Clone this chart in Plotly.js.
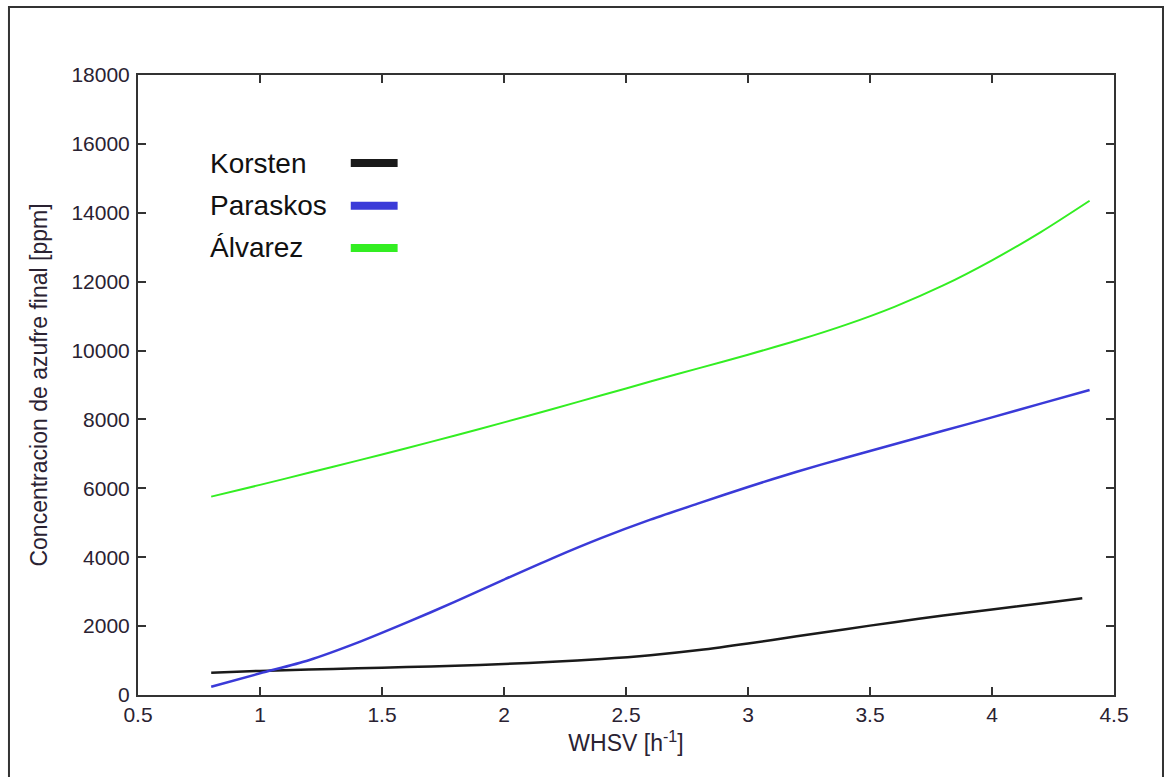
<!DOCTYPE html>
<html>
<head>
<meta charset="utf-8">
<script src="https://cdn.plot.ly/plotly-3.0.1.min.js"></script>
<style>
  html, body { margin: 0; padding: 0; background: #fff; }
  #chart { width: 1168px; height: 777px; }
</style>
</head>
<body>
<div id="chart"></div>
<script>
// WHSV [h^-1]
const whsv = [0.8, 1.0, 1.2, 1.4, 1.6, 1.8, 2.0, 2.2, 2.4, 2.6, 2.8, 3.0, 3.2, 3.4, 3.6, 3.8, 4.0, 4.2, 4.4];
const whsvKorsten = [0.8, 1.0, 1.2, 1.4, 1.6, 1.8, 2.0, 2.2, 2.4, 2.6, 2.8, 3.0, 3.2, 3.4, 3.6, 3.8, 4.0, 4.2, 4.37];

// Concentración de azufre final [ppm]
const korsten  = [647, 700, 740, 775, 810, 850, 900, 965, 1045, 1155, 1305, 1495, 1705, 1912, 2115, 2305, 2485, 2655, 2806];
const paraskos = [240, 629, 1010, 1520, 2100, 2710, 3350, 3975, 4560, 5090, 5570, 6040, 6480, 6890, 7280, 7670, 8060, 8460, 8855];
const alvarez  = [5760, 6100, 6450, 6805, 7165, 7535, 7915, 8305, 8700, 9100, 9490, 9880, 10290, 10745, 11270, 11890, 12620, 13440, 14350];

const seriesNames = ["Korsten", "Paraskos", "Álvarez"];
const seriesColors = ["#1a1a1a", "#3a3ad8", "#33ee22"];

const xTicks = [0.5, 1, 1.5, 2, 2.5, 3, 3.5, 4, 4.5];
const xTickText = ["0.5", "1", "1.5", "2", "2.5", "3", "3.5", "4", "4.5"];
const yTicks = [0, 2000, 4000, 6000, 8000, 10000, 12000, 14000, 16000, 18000];
const yTickText = ["0", "2000", "4000", "6000", "8000", "10000", "12000", "14000", "16000", "18000"];

const textColor = "#2a2232";
const fontFam = "Liberation Sans, Arial, sans-serif";

const traces = [
  { x: whsvKorsten, y: korsten, name: seriesNames[0], mode: "lines", line: { color: seriesColors[0], width: 2.5, shape: "spline", smoothing: 0.8 } },
  { x: whsv, y: paraskos, name: seriesNames[1], mode: "lines", line: { color: seriesColors[1], width: 2.5, shape: "spline", smoothing: 0.8 } },
  { x: whsv, y: alvarez, name: seriesNames[2], mode: "lines", line: { color: seriesColors[2], width: 2, shape: "spline", smoothing: 0.8 } }
];

// legend drawn manually: text on left, line sample on right
const legendRowsY = [0.858, 0.789, 0.721];
const annotations = seriesNames.map((n, i) => ({
  xref: "paper", yref: "paper", x: 0.072, y: legendRowsY[i],
  xanchor: "left", yanchor: "middle", showarrow: false,
  text: n, font: { family: fontFam, size: 28, color: "#111" }
}));
const shapes = seriesColors.map((c, i) => ({
  type: "line", xref: "paper", yref: "paper",
  x0: 0.218, x1: 0.266, y0: legendRowsY[i], y1: legendRowsY[i],
  line: { color: c, width: 8 }
}));
// outer frame
shapes.push({
  type: "rect", xref: "paper", yref: "paper",
  x0: -0.1322, x1: 1.0502, y0: -0.2, y1: 1.1097,
  line: { color: "#333", width: 2 }, layer: "below"
});

const layout = {
  width: 1168, height: 777,
  margin: { l: 138, r: 54, t: 75, b: 82 },
  paper_bgcolor: "#fff", plot_bgcolor: "#fff",
  showlegend: false,
  font: { family: fontFam, color: textColor, size: 21 },
  xaxis: {
    range: [0.5, 4.5], tickvals: xTicks, ticktext: xTickText,
    ticks: "inside", ticklen: 8, tickwidth: 2, tickcolor: "#333",
    showline: true, linecolor: "#333", linewidth: 2, mirror: "ticks",
    showgrid: false, zeroline: false,
    tickfont: { family: fontFam, size: 21, color: textColor },
    title: { text: "WHSV [h<sup>-1</sup>]", font: { family: fontFam, size: 23, color: textColor }, standoff: 10 }
  },
  yaxis: {
    range: [0, 18000], tickvals: yTicks, ticktext: yTickText,
    ticks: "inside", ticklen: 8, tickwidth: 2, tickcolor: "#333",
    showline: true, linecolor: "#333", linewidth: 2, mirror: "ticks",
    showgrid: false, zeroline: false,
    tickfont: { family: fontFam, size: 21, color: textColor },
    ticklabelstandoff: 2,
    title: { text: "Concentracion de azufre final [ppm]", font: { family: fontFam, size: 23, color: textColor }, standoff: 17 }
  },
  annotations: annotations,
  shapes: shapes
};

Plotly.newPlot("chart", traces, layout, { displayModeBar: false, staticPlot: true });
</script>
</body>
</html>
